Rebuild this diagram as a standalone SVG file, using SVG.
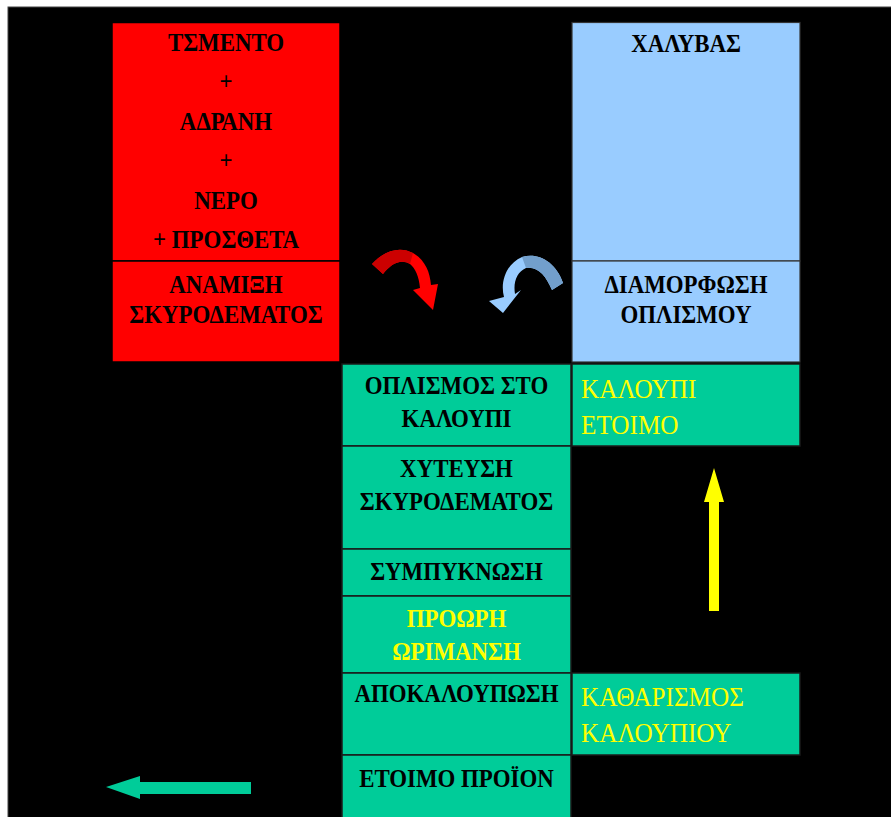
<svg xmlns="http://www.w3.org/2000/svg" width="891" height="817" viewBox="0 0 891 817">
<style>
.b{font-family:"Liberation Serif","Times New Roman",serif;font-weight:bold;font-size:25px;fill:#000;text-anchor:middle}
.y{fill:#FFFF00}
.r{font-family:"Liberation Serif","Times New Roman",serif;font-size:28px;fill:#FFFF00}
.red{fill:#FF0000;stroke:#000;stroke-width:1.5}
.blue{fill:#99CCFF;stroke:#333;stroke-width:1.2}
.grn{fill:#00CC99;stroke:#1a1a1a;stroke-width:1.5}
</style>
<rect x="0" y="0" width="891" height="817" fill="#fff"/>
<rect x="8" y="7" width="884" height="812" fill="#000" stroke="#444" stroke-width="1"/>

<g id="node-materials">
<rect class="red" x="112" y="22.5" width="228" height="238.5"/>
<g transform="translate(226,0) scale(0.915,1)">
<text class="b" x="0" y="51">ΤΣΜΕΝΤΟ</text>
<text class="b" x="0" y="90.5">+</text>
<text class="b" x="0" y="130">ΑΔΡΑΝΗ</text>
<text class="b" x="0" y="169.5">+</text>
<text class="b" x="0" y="209">ΝΕΡΟ</text>
<text class="b" x="0" y="248.5">+  ΠΡΟΣΘΕΤΑ</text>
</g>
</g>
<g id="node-mixing">
<rect class="red" x="112" y="261" width="228" height="101"/>
<g transform="translate(226,0) scale(0.915,1)">
<text class="b" x="0" y="293">ΑΝΑΜΙΞΗ</text>
<text class="b" x="0" y="323">ΣΚΥΡΟΔΕΜΑΤΟΣ</text>
</g>
</g>

<g id="node-steel">
<rect class="blue" x="572" y="22.5" width="228" height="238.5"/>
<g transform="translate(686,0) scale(0.915,1)">
<text class="b" x="0" y="52">ΧΑΛΥΒΑΣ</text>
</g>
</g>
<g id="node-shaping">
<rect class="blue" x="572" y="261" width="228" height="101"/>
<g transform="translate(686,0) scale(0.915,1)">
<text class="b" x="0" y="293">ΔΙΑΜΟΡΦΩΣΗ</text>
<text class="b" x="0" y="323">ΟΠΛΙΣΜΟΥ</text>
</g>
</g>

<g id="node-reinforcement-in-mould">
<rect class="grn" x="342" y="364" width="229" height="82"/>
<g transform="translate(456.5,0) scale(0.915,1)">
<text class="b" x="0" y="394">ΟΠΛΙΣΜΟΣ ΣΤΟ</text>
<text class="b" x="0" y="427">ΚΑΛΟΥΠΙ</text>
</g>
</g>
<g id="node-casting">
<rect class="grn" x="342" y="446" width="229" height="103"/>
<g transform="translate(456.5,0) scale(0.915,1)">
<text class="b" x="0" y="477.5">ΧΥΤΕΥΣΗ</text>
<text class="b" x="0" y="510.5">ΣΚΥΡΟΔΕΜΑΤΟΣ</text>
</g>
</g>
<g id="node-compaction">
<rect class="grn" x="342" y="549" width="229" height="47"/>
<g transform="translate(456.5,0) scale(0.915,1)">
<text class="b" x="0" y="580.5">ΣΥΜΠΥΚΝΩΣΗ</text>
</g>
</g>
<g id="node-curing">
<rect class="grn" x="342" y="596" width="229" height="77"/>
<g transform="translate(456.5,0) scale(0.915,1)">
<text class="b y" x="0" y="627.5">ΠΡΟΩΡΗ</text>
<text class="b y" x="0" y="660.5">ΩΡΙΜΑΝΣΗ</text>
</g>
</g>
<g id="node-demoulding">
<rect class="grn" x="342" y="673" width="229" height="82"/>
<g transform="translate(456.5,0) scale(0.915,1)">
<text class="b" x="0" y="702.5">ΑΠΟΚΑΛΟΥΠΩΣΗ</text>
</g>
</g>
<g id="node-product">
<rect class="grn" x="342" y="755" width="229" height="70"/>
<g transform="translate(456.5,0) scale(0.915,1)">
<text class="b" x="0" y="787">ΕΤΟΙΜΟ ΠΡΟΪΟΝ</text>
</g>
</g>

<g id="node-mould-ready">
<rect class="grn" x="572" y="364" width="228" height="82"/>
<g transform="translate(581,0) scale(0.9,1)">
<text class="r" x="0" y="398">ΚΑΛΟΥΠΙ</text>
<text class="r" x="0" y="434">ΕΤΟΙΜΟ</text>
</g>
</g>
<g id="node-mould-cleaning">
<rect class="grn" x="572" y="673" width="228" height="82"/>
<g transform="translate(581,0) scale(0.9,1)">
<text class="r" x="0" y="706.5">ΚΑΘΑΡΙΣΜΟΣ</text>
<text class="r" x="0" y="742">ΚΑΛΟΥΠΙΟΥ</text>
</g>
</g>

<g id="connectors">
<path d="M372,264 C385,250 400,246 413,253 C425,260 430,272 431,285 L438,284 L433,310 L413,290 L420,288 C419,276 415,268 410,264 C400,258 390,265 383,274 Z" fill="#FF0000"/>
<path d="M372,264 C385,250 400,246 413,253 L410,264 C400,258 390,265 383,274 Z" fill="#CC0000"/>
<path d="M563,283 C556,262 538,252 522,257 C506,264 500,282 504,297 L489,301 L503,313 L521,290 L515,294 C513,282 517,272 526,268 C538,266 546,276 552,290 Z" fill="#99CCFF"/>
<path d="M522,257 C538,252 556,262 563,283 L552,290 C546,276 538,266 526,268 Z" fill="#729FCC"/>
<polygon points="709,611 719,611 719,502 724,502 714,468 704,502 709,502" fill="#FFFF00"/>
<polygon points="251,782 251,794 140,794 140,799 106,787 140,776 140,782" fill="#00CC99"/>
</g>
</svg>
